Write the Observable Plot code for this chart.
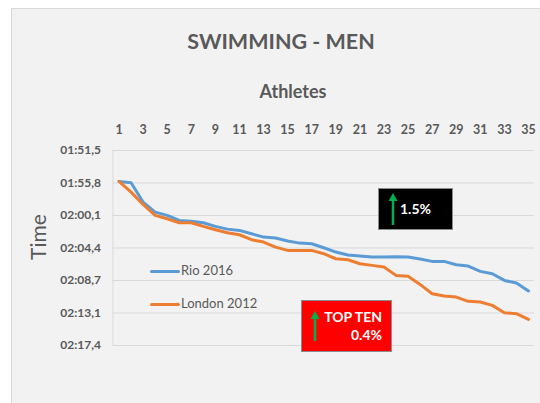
<!DOCTYPE html>
<html>
<head>
<meta charset="utf-8">
<script src="https://cdn.jsdelivr.net/npm/d3@7"></script>
<script src="https://cdn.jsdelivr.net/npm/@observablehq/plot@0.6"></script>
<style>
  body { margin: 0; background: #ffffff; font-family: Lato, "Open Sans", sans-serif; }
  #wrap { position: relative; width: 540px; height: 403px; overflow: hidden; }
  #bg { position: absolute; left: 11px; top: 8px; width: 540px; height: 400px; background: #f2f2f2; border-left: 1px solid #d9d9d9; border-top: 1px solid #d9d9d9; }
  .abs { position: absolute; white-space: nowrap; color: #595959; }
  #title { left: 0; width: 562px; top: 28px; text-align: center; font-size: 21.5px; font-weight: bold; }
  #xlabel { left: 0; width: 586px; top: 80px; text-align: center; font-size: 18px; font-weight: bold; }
  #ylabel { left: 37px; top: 237px; font-size: 21px; transform: translate(-50%, -50%) rotate(-90deg); }
  #chart { position: absolute; left: 0; top: 0; }
  .leg { position: absolute; font-size: 13px; color: #595959; }
  .leg .sw { position: absolute; width: 30px; height: 3px; border-radius: 2px; }
  .box { position: absolute; color: #ffffff; font-weight: bold; font-size: 14px; box-sizing: border-box; border: 1px solid #8c8c8c; }
  .arrow { position: absolute; }
</style>
</head>
<body>
<div id="wrap">
  <div id="bg"></div>
  <div id="chart"></div>
  <div id="title" class="abs">SWIMMING - MEN</div>
  <div id="xlabel" class="abs">Athletes</div>
  <div id="ylabel" class="abs">Time</div>
  <div class="leg" style="left:150px; top:262px;"><div class="sw" style="left:0; top:8px; background:#5b9bd5;"></div><span style="position:absolute; left:31px; top:0;">Rio&nbsp;2016</span></div>
  <div class="leg" style="left:150px; top:295px;"><div class="sw" style="left:0; top:8px; background:#ed7d31;"></div><span style="position:absolute; left:31px; top:0;">London&nbsp;2012</span></div>
  <div class="box" style="left:378px; top:188px; width:75px; height:42px; background:#000000;">
    <svg class="arrow" style="left:8px; top:3px;" width="12" height="34"><path d="M6 33 V8" stroke="#00b050" stroke-width="2.5"/><path d="M1.5 9 L6 1 L10.5 9 Z" fill="#00b050"/></svg>
    <span style="position:absolute; left:21px; top:11px;">1.5%</span>
  </div>
  <div class="box" style="left:301px; top:300px; width:91px; height:52px; background:#ff0000;">
    <svg class="arrow" style="left:7px; top:9px;" width="12" height="32"><path d="M6 31 V8" stroke="#00b050" stroke-width="2.5"/><path d="M1.5 9 L6 1 L10.5 9 Z" fill="#00b050"/></svg>
    <span style="position:absolute; right:9px; top:7px;">TOP TEN</span>
    <span style="position:absolute; right:9px; top:25px;">0.4%</span>
  </div>
</div>
<script>
const athletes = [1,2,3,4,5,6,7,8,9,10,11,12,13,14,15,16,17,18,19,20,21,22,23,24,25,26,27,28,29,30,31,32,33,34,35];
// times in seconds
const rio2016 = [115.62,115.79,118.36,119.69,120.13,120.80,120.89,121.11,121.59,121.95,122.12,122.57,123.01,123.14,123.54,123.81,123.90,124.43,125.00,125.40,125.53,125.67,125.67,125.62,125.67,125.93,126.24,126.24,126.68,126.86,127.57,127.88,128.77,129.12,130.18];
const london2012 = [115.62,117.03,118.67,120.13,120.58,121.11,121.11,121.59,122.04,122.43,122.70,123.36,123.67,124.34,124.78,124.78,124.78,125.22,125.89,126.02,126.55,126.77,127.00,128.10,128.23,129.30,130.54,130.85,130.98,131.55,131.64,132.09,133.06,133.19,133.94];
const xTicks = [1,3,5,7,9,11,13,15,17,19,21,23,25,27,29,31,33,35];
const yTickSeconds = [111.5,115.82,120.14,124.46,128.78,133.1,137.42];
const yTickLabels = ["01:51,5","01:55,8","02:00,1","02:04,4","02:08,7","02:13,1","02:17,4"];

const rioRows = athletes.map((a, i) => ({athlete: a, time: rio2016[i]}));
const londonRows = athletes.map((a, i) => ({athlete: a, time: london2012[i]}));

const chart = Plot.plot({
  width: 540,
  height: 403,
  marginLeft: 112.5,
  marginRight: 6,
  marginTop: 150,
  marginBottom: 58,
  style: {background: "transparent", fontFamily: "Lato, 'Open Sans', sans-serif", color: "#595959", overflow: "visible"},
  x: {domain: [0.5, 35.5]},
  y: {domain: [yTickSeconds[0], yTickSeconds[yTickSeconds.length - 1]], reverse: true},
  marks: [
    Plot.gridY(yTickSeconds, {stroke: "#d9d9d9", strokeOpacity: 1, strokeWidth: 1}),
    Plot.ruleX([0.5], {stroke: "#d9d9d9", strokeWidth: 1}),
    Plot.axisX(xTicks, {anchor: "top", tickSize: 0, tickPadding: 17, fontSize: 12.5, fontWeight: "bold", label: null, fill: "#595959"}),
    Plot.axisY(yTickSeconds, {anchor: "left", tickSize: 0, tickPadding: 12, fontSize: 12, fontWeight: "bold", label: null, fill: "#595959",
      tickFormat: d => yTickLabels[yTickSeconds.indexOf(d)]}),
    Plot.line(rioRows, {x: "athlete", y: "time", stroke: "#5b9bd5", strokeWidth: 3}),
    Plot.line(londonRows, {x: "athlete", y: "time", stroke: "#ed7d31", strokeWidth: 3})
  ]
});
document.getElementById("chart").appendChild(chart);
</script>
</body>
</html>
